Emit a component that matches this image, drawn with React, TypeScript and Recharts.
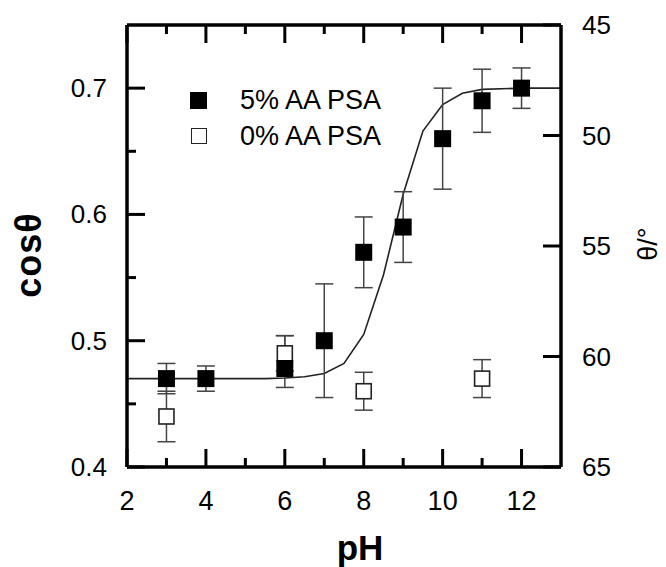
import React from "react";
import { ComposedChart, Scatter, Line, XAxis, YAxis, ErrorBar, Legend } from "recharts";

const FONT = '"Liberation Sans", Arial, Helvetica, sans-serif';

// 5% AA PSA (filled squares)
const phFilled = [3, 4, 6, 7, 8, 9, 10, 11, 12];
const cosFilled = [0.47, 0.47, 0.478, 0.5, 0.57, 0.59, 0.66, 0.69, 0.7];
const errFilled: (number | [number, number])[] = [0.012, 0.01, [0.015, 0.026], 0.045, 0.028, 0.028, 0.04, 0.025, 0.016];

// 0% AA PSA (open squares)
const phOpen = [3, 6, 8, 11];
const cosOpen = [0.44, 0.49, 0.46, 0.47];
const errOpen = [0.02, 0.014, 0.015, 0.015];

// sigmoid fit line
const fitPh = [2, 3, 4, 5, 5.5, 6, 6.5, 7, 7.5, 8, 8.5, 9, 9.5, 10, 10.5, 11, 12, 13];
const fitCos = [0.47, 0.47, 0.47, 0.47, 0.47, 0.4705, 0.4715, 0.474, 0.482, 0.505, 0.552, 0.616, 0.666, 0.687, 0.696, 0.699, 0.7, 0.7];

// axes
const xTicks = [2, 3, 4, 5, 6, 7, 8, 9, 10, 11, 12];
const xLabels = [2, 4, 6, 8, 10, 12];
const yTicks = [0.4, 0.45, 0.5, 0.55, 0.6, 0.65, 0.7];
const yLabels = [0.4, 0.5, 0.6, 0.7];
const thetaTicks = [45, 50, 55, 60, 65];

const filledData = phFilled.map((x, i) => ({ x, y: cosFilled[i], err: errFilled[i] }));
const openData = phOpen.map((x, i) => ({ x, y: cosOpen[i], err: errOpen[i] }));
const fitData = fitPh.map((x, i) => ({ x, y: fitCos[i] }));

const MAJOR = 18;
const MINOR = 9;
const TICK_W = 3;

// inward tick mark + outside label, drawn as a path so it keeps its own stroke
const BottomTick = (props: any) => {
  const { x, y, payload } = props;
  const major = xLabels.includes(payload.value);
  const len = major ? MAJOR : MINOR;
  return (
    <g>
      <path d={`M${x},${y}V${y - len}`} stroke="#000" strokeWidth={TICK_W} fill="none" />
      {major && (
        <text x={x} y={y + 43} textAnchor="middle" fontSize={27} fontFamily={FONT} fill="#000" stroke="none">
          {payload.value}
        </text>
      )}
    </g>
  );
};

const TopTick = (props: any) => {
  const { x, y, payload } = props;
  const len = xLabels.includes(payload.value) ? MAJOR : MINOR;
  return <path d={`M${x},${y}V${y + len}`} stroke="#000" strokeWidth={TICK_W} fill="none" />;
};

const LeftTick = (props: any) => {
  const { x, y, payload } = props;
  const major = yLabels.some((v) => Math.abs(v - payload.value) < 1e-6);
  const len = major ? MAJOR : MINOR;
  return (
    <g>
      <path d={`M${x},${y}H${x + len}`} stroke="#000" strokeWidth={TICK_W} fill="none" />
      {major && (
        <text x={x - 20} y={y + 9} textAnchor="end" fontSize={26} fontFamily={FONT} fill="#000" stroke="none">
          {Number(payload.value).toFixed(1)}
        </text>
      )}
    </g>
  );
};

const RightTick = (props: any) => {
  const { x, y, payload } = props;
  return (
    <g>
      <path d={`M${x},${y}H${x - MAJOR}`} stroke="#000" strokeWidth={TICK_W} fill="none" />
      <text x={x + 21} y={y + 9} textAnchor="start" fontSize={26} fontFamily={FONT} fill="#000" stroke="none">
        {payload.value}
      </text>
    </g>
  );
};

const FilledSquare = (props: any) => {
  const { cx, cy } = props;
  return <rect x={cx - 8.5} y={cy - 8.5} width={17} height={17} fill="#000" />;
};

const OpenSquare = (props: any) => {
  const { cx, cy } = props;
  return <rect x={cx - 7.5} y={cy - 7.5} width={15} height={15} fill="#fff" stroke="#222" strokeWidth={1.6} />;
};

const LegendBox = () => (
  <div style={{ fontFamily: FONT, fontSize: 27, color: "#000" }}>
    <div style={{ display: "flex", alignItems: "center", height: 36 }}>
      <span style={{ display: "inline-block", width: 17, height: 17, background: "#000", marginRight: 33 }} />
      <span>5% AA PSA</span>
    </div>
    <div style={{ display: "flex", alignItems: "center", height: 36 }}>
      <span
        style={{
          display: "inline-block",
          width: 16,
          height: 16,
          boxSizing: "border-box",
          border: "1.6px solid #222",
          background: "#fff",
          marginLeft: 0.5,
          marginRight: 33.5,
        }}
      />
      <span>0% AA PSA</span>
    </div>
  </div>
);

export default function App() {
  const axisLine = { stroke: "#000", strokeWidth: 3.5 };
  return (
    <div style={{ position: "absolute", left: 0, top: 0, width: 666, height: 567, background: "#fff" }}>
      <ComposedChart width={666} height={567} margin={{ top: 24, right: 45, bottom: 70, left: 67 }}>
        <XAxis
          xAxisId="bottom"
          dataKey="x"
          type="number"
          domain={[2, 13]}
          ticks={xTicks}
          interval={0}
          height={30}
          allowDataOverflow
          axisLine={axisLine}
          stroke="#000"
          tickLine={false}
          tickSize={0}
          tickMargin={0}
          tick={<BottomTick />}
          label={{
            content: (p: any) => {
              const vb = p.viewBox || { x: 127, y: 467, width: 434 };
              return (
                <text x={vb.x + vb.width / 2 + 16} y={560} textAnchor="middle" fontSize={35} fontWeight="bold" fontFamily={FONT} fill="#000">
                  pH
                </text>
              );
            },
          }}
        />
        <XAxis
          xAxisId="top"
          orientation="top"
          dataKey="x"
          type="number"
          domain={[2, 13]}
          ticks={xTicks}
          interval={0}
          height={1}
          allowDataOverflow
          axisLine={axisLine}
          stroke="#000"
          tickLine={false}
          tickSize={0}
          tickMargin={0}
          tick={<TopTick />}
        />
        <YAxis
          yAxisId="left"
          dataKey="y"
          type="number"
          domain={[0.4, 0.75]}
          ticks={yTicks}
          interval={0}
          width={60}
          allowDataOverflow
          axisLine={axisLine}
          stroke="#000"
          tickLine={false}
          tickSize={0}
          tickMargin={0}
          tick={<LeftTick />}
          label={{
            content: (p: any) => {
              const vb = p.viewBox || { x: 67, y: 25, width: 60, height: 442 };
              const cx = vb.x - 39;
              const cy = vb.y + vb.height / 2 + 9;
              return (
                <text x={cx} y={cy} transform={`rotate(-90 ${cx} ${cy})`} textAnchor="middle" dominantBaseline="central" fontSize={36} letterSpacing={1} fontWeight="bold" fontFamily={FONT} fill="#000">
                  cosθ
                </text>
              );
            },
          }}
        />
        <YAxis
          yAxisId="right"
          orientation="right"
          type="number"
          domain={[45, 65]}
          reversed
          ticks={thetaTicks}
          interval={0}
          width={60}
          allowDataOverflow
          axisLine={axisLine}
          stroke="#000"
          tickLine={false}
          tickSize={0}
          tickMargin={0}
          tick={<RightTick />}
          label={{
            content: (p: any) => {
              const vb = p.viewBox || { x: 561, y: 25, width: 60, height: 442 };
              const cx = vb.x + 87;
              const cy = vb.y + vb.height / 2 - 2;
              return (
                <text x={cx} y={cy} transform={`rotate(-90 ${cx} ${cy})`} textAnchor="middle" dominantBaseline="central" fontSize={27} fontFamily={FONT} fill="#000">
                  θ/°
                </text>
              );
            },
          }}
        />
        <Legend
          verticalAlign="middle"
          layout="horizontal"
          wrapperStyle={{ position: "absolute", left: 190, top: 82, width: "auto", height: "auto" }}
          content={() => <LegendBox />}
        />
        <Line
          xAxisId="bottom"
          yAxisId="left"
          data={fitData}
          dataKey="y"
          type="linear"
          stroke="#222"
          strokeWidth={1.6}
          dot={false}
          activeDot={false}
          isAnimationActive={false}
          legendType="none"
        />
        <Scatter
          name="0% AA PSA"
          xAxisId="bottom"
          yAxisId="left"
          data={openData}
          dataKey="y"
          shape={<OpenSquare />}
          isAnimationActive={false}
        >
          <ErrorBar dataKey="err" direction="y" width={9} stroke="#444" strokeWidth={1.5} isAnimationActive={false} />
        </Scatter>
        <Scatter
          name="5% AA PSA"
          xAxisId="bottom"
          yAxisId="left"
          data={filledData}
          dataKey="y"
          shape={<FilledSquare />}
          isAnimationActive={false}
        >
          <ErrorBar dataKey="err" direction="y" width={9} stroke="#444" strokeWidth={1.5} isAnimationActive={false} />
        </Scatter>
      </ComposedChart>
    </div>
  );
}
